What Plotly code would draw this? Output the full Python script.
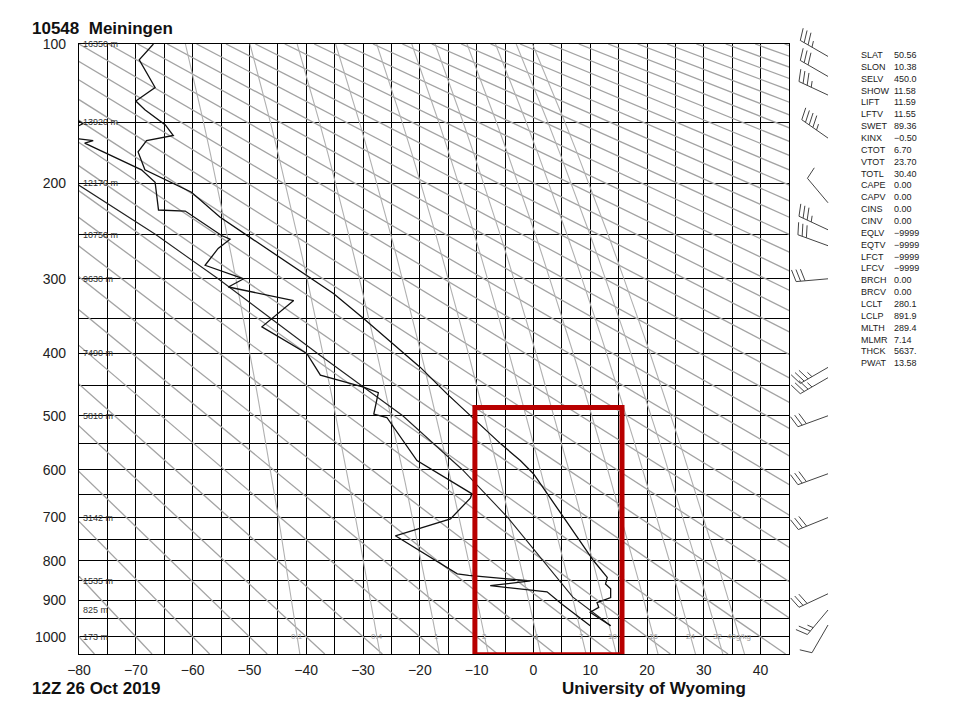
import numpy as np
import plotly.graph_objects as go

# 10548 Meiningen, 12Z 26 Oct 2019
temp_p = [100, 109, 126, 135, 141, 152, 160, 164, 173, 188, 208, 232, 253, 290, 318, 350,
          421, 463, 550, 582, 608, 699, 800, 841, 858, 870, 893, 906, 919, 932, 969]
temp_c = [-66.9, -69.4, -66.6, -70.0, -68.4, -64.8, -63.4, -68.1, -69.6, -68.4, -60.2, -55.2,
          -49.9, -41.1, -35.2, -30.0, -19.9, -15.2, -5.8, -2.3, 0.0, 5.3, 10.6, 13.0, 12.7,
          13.6, 13.6, 11.2, 11.5, 10.0, 13.6]

dewp_p = [140, 147, 151, 157, 162, 164, 166, 188, 199, 225, 226, 251, 255, 265, 284, 300,
          310, 327, 362, 400, 433, 452, 461, 497, 503, 582, 649, 658, 703, 741, 832, 836,
          850, 862, 878, 911, 969]
dewp_c = [-86.0, -81.0, -79.3, -82.0, -81.0, -77.5, -79.0, -69.0, -66.6, -66.0, -61.3, -54.9,
          -53.4, -55.5, -57.8, -51.0, -53.7, -42.2, -47.8, -39.9, -37.5, -29.9, -27.3, -28.1,
          -25.8, -20.5, -10.8, -11.1, -14.6, -24.3, -13.4, -11.4, -0.5, -7.6, 2.4, 5.1, 10.0]

parcel_p = [200, 250, 300, 400, 500, 600, 700, 800, 892, 969]
parcel_c = [-80.5, -66.5, -55.5, -38.0, -23.0, -12.5, -4.5, 1.8, 6.95, 13.6]

wind_p = [107, 119, 131, 162, 218, 245, 262, 300, 421, 437, 500, 608, 700, 883, 926, 967]
wind_dir = [300, 300, 295, 305, 320, 295, 290, 265, 240, 240, 250, 250, 248, 245, 220, 210]
wind_kt = [35, 30, 35, 45, 10, 35, 30, 30, 35, 35, 30, 30, 30, 30, 25, 10]

height_p = [100, 150, 200, 250, 300, 400, 500, 700, 850, 925, 1000]
height_txt = ["16350 m", "13920 m", "12170 m", "10750 m", "9630 m", "7490 m", "5810 m",
              "3142 m", "1535 m", "825 m", "173 m"]

index_names = ["SLAT", "SLON", "SELV", "SHOW", "LIFT", "LFTV", "SWET", "KINX", "CTOT", "VTOT",
               "TOTL", "CAPE", "CAPV", "CINS", "CINV", "EQLV", "EQTV", "LFCT", "LFCV", "BRCH",
               "BRCV", "LCLT", "LCLP", "MLTH", "MLMR", "THCK", "PWAT"]
index_values = ["50.56", "10.38", "450.0", "11.58", "11.59", "11.55", "89.36", "\u22120.50", "6.70",
                "23.70", "30.40", "0.00", "0.00", "0.00", "0.00", "\u22129999", "\u22129999",
                "\u22129999", "\u22129999", "0.00", "0.00", "280.1", "891.9", "289.4", "7.14",
                "5637.", "13.58"]

dry_adiabat_t1000 = list(range(-90, 360, 10))
mixing_ratios = [0.1, 0.4, 1, 2, 4, 7, 10, 16, 24, 32, 40]
mixing_labels = ["0.1", "0.4", "1", "2", "4", "7", "10", "16", "24", "32", "40g/kg"]

KAPPA = 0.286
P_TOP, P_BOT = 100.0, 1050.0
FONT = "Liberation Sans, Arial, sans-serif"
PAGE = 8  # body margin of the html page


def stuve(p):
    return np.asarray(p, dtype=float) ** KAPPA


def dewpoint(q, p):
    e = q * p / (622.0 + q)
    a = np.log(e / 6.112)
    return 243.5 * a / (17.67 - a)


# plot area in screen pixels: x 79..789, y 44..654
def px_x(px):
    return (px - 79) / 710.0


def px_y(py):
    return (654 - py) / 610.0


def p_frac(p):
    return (stuve(P_BOT) - stuve(p)) / (stuve(P_BOT) - stuve(P_TOP))


fig = go.Figure()

# dry adiabats (straight on a Stuve chart)
pp = np.array([P_TOP, P_BOT])
xs, ys = [], []
for t0 in dry_adiabat_t1000:
    xs += list((t0 + 273.15) * (pp / 1000.0) ** KAPPA - 273.15) + [None]
    ys += list(stuve(pp)) + [None]
fig.add_trace(go.Scatter(x=xs, y=ys, mode="lines", line=dict(color="#a3a3a3", width=1.3),
                         hoverinfo="skip", showlegend=False))

# mixing ratio lines
pp = np.linspace(P_TOP, P_BOT, 39)
xs, ys = [], []
for q in mixing_ratios:
    xs += list(dewpoint(q, pp)) + [None]
    ys += list(stuve(pp)) + [None]
fig.add_trace(go.Scatter(x=xs, y=ys, mode="lines", line=dict(color="#b0b0b0", width=1.1),
                         hoverinfo="skip", showlegend=False))

fig.add_trace(go.Scatter(x=parcel_c, y=stuve(parcel_p), mode="lines",
                         line=dict(color="#222", width=1.1), name="parcel", showlegend=False))
fig.add_trace(go.Scatter(x=dewp_c, y=stuve(dewp_p), mode="lines",
                         line=dict(color="#111", width=1.3), name="Td", showlegend=False))
fig.add_trace(go.Scatter(x=temp_c, y=stuve(temp_p), mode="lines",
                         line=dict(color="#111", width=1.3), name="T", showlegend=False))

annotations = []
for p, txt in zip(height_p, height_txt):
    annotations.append(dict(x=-80, y=float(stuve(p)), xref="x", yref="y", text=txt,
                            xanchor="left", yanchor="middle", xshift=2, showarrow=False,
                            font=dict(family=FONT, size=9, color="#333")))
for q, lab in zip(mixing_ratios, mixing_labels):
    annotations.append(dict(x=float(dewpoint(q, 1000.0)), y=float(stuve(1000)), xref="x", yref="y",
                            text=lab, showarrow=False, xanchor="center", yanchor="middle",
                            font=dict(family=FONT, size=8, color="#9a9a9a")))
for i, (n, v) in enumerate(zip(index_names, index_values)):
    ypx = 55 + i * 11.86
    annotations.append(dict(x=px_x(859), y=px_y(ypx), xref="paper", yref="paper", text=n,
                            xanchor="left", yanchor="middle", showarrow=False,
                            font=dict(family=FONT, size=9, color="#222")))
    annotations.append(dict(x=px_x(892), y=px_y(ypx), xref="paper", yref="paper", text=v,
                            xanchor="left", yanchor="middle", showarrow=False,
                            font=dict(family=FONT, size=9, color="#222")))
annotations.append(dict(x=px_x(30), y=px_y(28), xref="paper", yref="paper",
                        text="<b>10548\u00a0\u00a0Meiningen</b>", xanchor="left", yanchor="middle",
                        showarrow=False, font=dict(family=FONT, size=17, color="#111")))
annotations.append(dict(x=px_x(30), y=px_y(688), xref="paper", yref="paper",
                        text="<b>12Z 26 Oct 2019</b>", xanchor="left", yanchor="middle",
                        showarrow=False, font=dict(family=FONT, size=17, color="#111")))
annotations.append(dict(x=px_x(560), y=px_y(688), xref="paper", yref="paper",
                        text="<b>University of Wyoming</b>", xanchor="left", yanchor="middle",
                        showarrow=False, font=dict(family=FONT, size=17, color="#111")))


# wind barbs, drawn in pixel units beside the chart
def barb_segments(direction, speed, staff=32.0, flen=12.0, gap=4.5):
    a = np.deg2rad(direction)
    sx, sy = np.sin(a), np.cos(a)
    fx, fy = sy, -sx
    segs = [(0.0, 0.0, sx * staff, sy * staff)]
    pos = staff
    left = int(5 * round(speed / 5.0))
    if 5 <= left < 10:
        pos -= gap
    while left >= 10:
        x0, y0 = sx * pos, sy * pos
        segs.append((x0, y0, x0 + fx * flen + sx * flen * 0.3, y0 + fy * flen + sy * flen * 0.3))
        pos -= gap
        left -= 10
    if left >= 5:
        x0, y0 = sx * pos, sy * pos
        h = flen * 0.5
        segs.append((x0, y0, x0 + fx * h + sx * h * 0.3, y0 + fy * h + sy * h * 0.3))
    return segs


shapes = []
for p, d, s in zip(wind_p, wind_dir, wind_kt):
    bx = px_x(828)
    by = float(p_frac(p))
    path = ""
    for x0, y0, x1, y1 in barb_segments(d, s):
        path += "M %.5f,%.5f L %.5f,%.5f " % (bx + x0 / 710.0, by + y0 / 610.0,
                                              bx + x1 / 710.0, by + y1 / 610.0)
    shapes.append(dict(type="path", path=path.strip(), xref="paper", yref="paper",
                       line=dict(color="#444", width=1)))

# highlighted region
shapes.append(dict(type="rect", xref="x", yref="y", x0=-10.3, x1=15.6,
                   y0=float(stuve(486)), y1=float(stuve(1052)),
                   line=dict(color="#b80000", width=5), layer="above"))

xtick = list(range(-80, 50, 5))
xtext = [(str(v).replace("-", "\u2212") if v % 10 == 0 and v <= 40 else "") for v in xtick]
ytick_p = list(range(100, 1051, 50))
ytext = [(str(p) if p % 100 == 0 and p <= 1000 else "") for p in ytick_p]

fig.update_layout(
    width=954 - PAGE, height=717 - PAGE,
    margin=dict(l=79 - PAGE, r=165, t=44 - PAGE, b=63),
    paper_bgcolor="white", plot_bgcolor="white",
    showlegend=False,
    annotations=annotations,
    shapes=shapes,
    xaxis=dict(range=[-80, 45], tickvals=xtick, ticktext=xtext, showgrid=True,
               gridcolor="#000", gridwidth=1, zeroline=False, showline=True, mirror=True,
               linecolor="#000", linewidth=1.2, ticks="", ticklabelstandoff=3,
               tickfont=dict(family=FONT, size=14, color="#222")),
    yaxis=dict(range=[float(stuve(P_BOT)), float(stuve(P_TOP))], tickvals=list(stuve(ytick_p)),
               ticktext=ytext, showgrid=True, gridcolor="#000", gridwidth=1, zeroline=False,
               showline=True, mirror=True, linecolor="#000", linewidth=1.2, ticks="",
               ticklabelstandoff=9, tickfont=dict(family=FONT, size=14, color="#222")),
)

fig.write_html("out.html")
